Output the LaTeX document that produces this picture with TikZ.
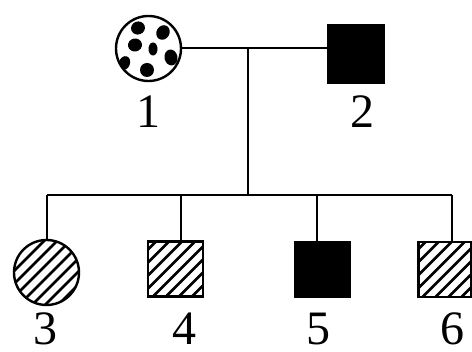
\documentclass[tikz,border=0pt]{standalone}
\usepackage{fontspec}
\setmainfont{Liberation Serif}
\begin{document}
\begin{tikzpicture}[x=1pt,y=-1pt]
\tikzset{
 ind/.style={draw=black, line width=2.4pt, inner sep=0pt},
 female/.style={ind, circle, minimum size=65pt},
 male/.style={ind, rectangle, minimum width=55pt, minimum height=55pt},
 hatch/.style={path picture={\foreach \k in {-117,-104,...,117}{\draw[line width=2.8pt] ([shift={(\k pt,-70pt)}]path picture bounding box.center) -- ++(140pt,140pt);}}},
 dotted blobs/.style={path picture={
   \foreach \dx/\dy/\rx/\ry/\a in {-10.5/20.5/7/6.5/20, 14.5/16/6.5/7.5/-30, -13.5/3.5/7/6.5/10, 4.5/-0.5/4.5/6.5/0, 22.5/-9/6.5/8/10, -24/-14.5/5.5/7/-20, -1.5/-21.5/7/7/0}{
     \fill ([shift={(\dx pt,\dy pt)}]path picture bounding box.center) ellipse [x radius=\rx pt, y radius=\ry pt, rotate=\a];}}},
 conn/.style={line width=2pt},
 lbl/.style={font=\fontsize{48}{48}\selectfont, inner sep=0pt},
}
\useasboundingbox (0,0) rectangle (472,352);
% generation I
\node[female, dotted blobs] (n1) at (148.5,48.5) {};
\node[male, fill=black, minimum height=57pt] (n2) at (356,54) {};
% generation II
\node[female, hatch] (n3) at (46.5,272.5) {};
\node[male, hatch] (n4) at (175.5,269) {};
\node[male, fill=black] (n5) at (322.5,269.5) {};
\node[male, hatch, minimum width=53pt] (n6) at (445,269.5) {};
% labels
\node[lbl] (l1) at (148,112) {1};
\node[lbl] (l2) at (362,112) {2};
\node[lbl] (l3) at (46,329) {3};
\node[lbl] (l4) at (184,329) {4};
\node[lbl] (l5) at (318,329) {5};
\node[lbl] (l6) at (452,329) {6};
% connectors
\coordinate (m) at (248,48);
\coordinate (c) at (248,195);
\coordinate (s3) at (46.5,195);
\coordinate (s4) at (181,195);
\coordinate (s5) at (317,195);
\coordinate (s6) at (452,195);
\draw[conn] (n1.east) -- (n2.west |- n1.east);
\draw[conn] (m) -- (c);
\draw[conn] (s3) -- (s6);
\draw[conn] (s3) -- (n3.north);
\draw[conn] (s4) -- (s4 |- n4.north);
\draw[conn] (s5) -- (s5 |- n5.north);
\draw[conn] (s6) -- (s6 |- n6.north);
\end{tikzpicture}
\end{document}
